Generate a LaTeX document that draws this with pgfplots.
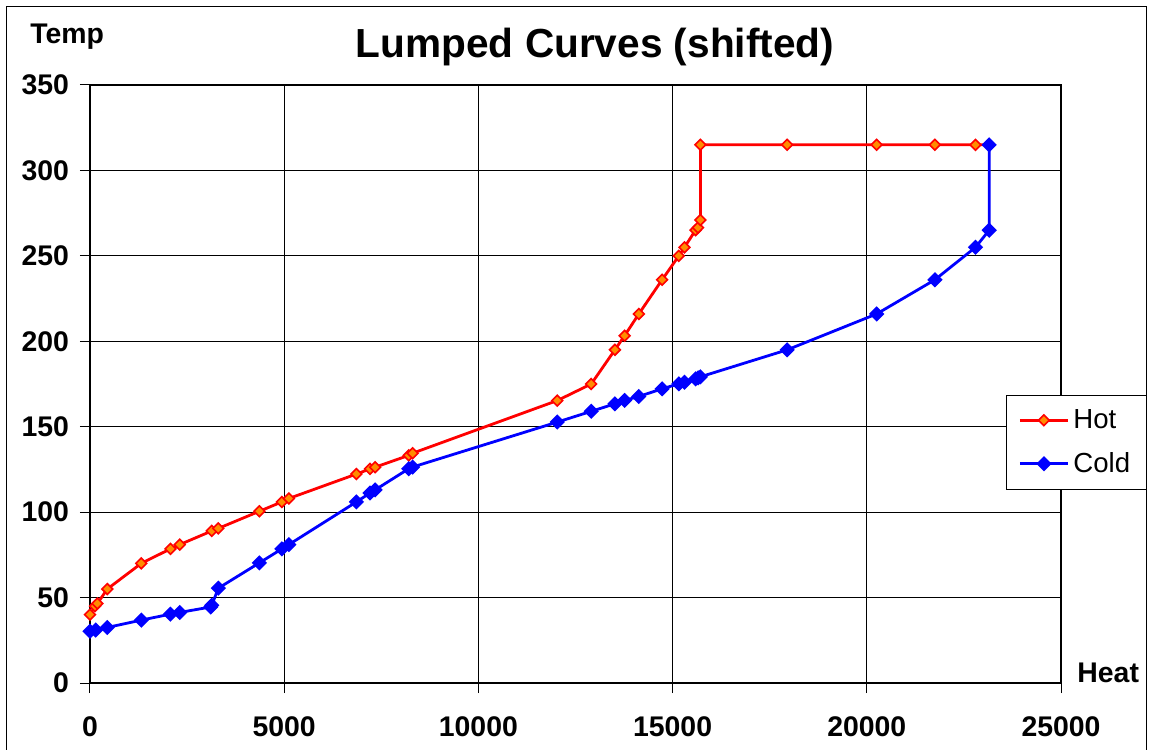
\documentclass[border=0pt]{standalone}
\usepackage{fontspec}
\setmainfont{Liberation Sans}
\usepackage{pgfplots}
\pgfplotsset{compat=1.18}
\definecolor{hotred}{RGB}{255,0,0}
\definecolor{hotfill}{RGB}{255,140,0}
\definecolor{coldblue}{RGB}{0,0,255}

\begin{document}
\begin{tikzpicture}
\useasboundingbox (-45pt,-33pt) rectangle (532.5pt,341.5pt);
\begin{axis}[
  at={(0,0)}, anchor=south west,
  scale only axis, width=485.5pt, height=299pt,
  xmin=0, xmax=25000, ymin=0, ymax=350,
  xtick={0,5000,...,25000}, ytick={0,50,...,350},
  scaled x ticks=false,
  grid=major, major grid style={black, line width=0.5pt},
  axis line style={black, line width=0.75pt},
  tick align=outside, major tick length=5pt,
  tick style={black, line width=0.5pt},
  xtick pos=bottom, ytick pos=left,
  /pgf/number format/assume math mode=true,
  /pgf/number format/1000 sep={},
  ticklabel style={font=\fontsize{14.2}{17}\selectfont\bfseries},
  xticklabel style={yshift=-8.5pt},
  yticklabel style={xshift=-2pt},
  clip=false,
  legend style={at={(0.9434,0.4820)}, anchor=north west, draw=black,
    line width=0.5pt, font=\fontsize{13.8}{16}\selectfont,
    row sep=6.5pt, inner xsep=6pt, inner ysep=5pt},
  legend cell align=left,
  legend image code/.code={\draw[mark repeat=2,mark phase=2,#1]
    plot coordinates {(0pt,0pt) (12pt,0pt) (24pt,0pt)};},
]
% Hot composite curve
\addplot[hotred, line width=1.4pt, mark=square*, mark size=1.9pt,
  mark options={rotate=45, solid, fill=hotfill, draw=hotred, line width=0.8pt}]
  coordinates {
  (0,40) (130,45) (190,46.5) (445,55) (1320,70) (2070,78.5) (2310,81)
  (3135,89) (3305,90.5) (4360,100.5) (4940,106) (5120,108) (6860,122.3)
  (7210,125.3) (7340,126.3) (8205,133.2) (8307,134.5) (12030,165.3)
  (12905,175) (13515,195) (13765,203.3) (14130,216) (14730,236)
  (15160,250) (15305,255) (15590,265) (15655,266.5) (15716,271)
  (15716,315) (17950,315) (20254,315) (21753,315) (22798,315) (23150,315)
};
\addlegendentry{Hot}
% Cold composite curve
\addplot[coldblue, line width=1.4pt, mark=square*, mark size=2pt,
  mark options={rotate=45, solid, fill=coldblue, draw=coldblue}]
  coordinates {
  (0,30.3) (146,31) (445,32.5) (1320,36.8) (2070,40.3) (2310,41.3)
  (3110,44.5) (3135,45.5) (3305,55.5) (4360,70.3) (4940,78.5) (5120,81)
  (6860,106) (7210,111.2) (7340,113) (8205,125.4) (8307,126.4)
  (12030,152.7) (12905,159) (13515,163.4) (13765,165.4) (14130,167.7)
  (14730,172.2) (15160,175.1) (15305,176) (15590,178) (15655,178.6)
  (15716,179.2) (17950,195) (20254,216) (21753,236) (22798,255)
  (23150,265) (23150,315)
};
\addlegendentry{Cold}
\end{axis}
\node[anchor=base, inner sep=0pt, font=\fontsize{20.3}{24}\selectfont\bfseries]
  at (252.5pt,312.5pt) {Lumped Curves (shifted)};
\node[anchor=base west, inner sep=0pt, font=\fontsize{14.2}{17}\selectfont\bfseries]
  at (-30pt,319.5pt) {Temp};
\node[anchor=base west, inner sep=0pt, font=\fontsize{14.2}{17}\selectfont\bfseries]
  at (493.5pt,0.5pt) {Heat};
\draw[black, line width=0.5pt] (-41.5pt,-40pt) rectangle (528pt,338pt);
\end{tikzpicture}
\end{document}
